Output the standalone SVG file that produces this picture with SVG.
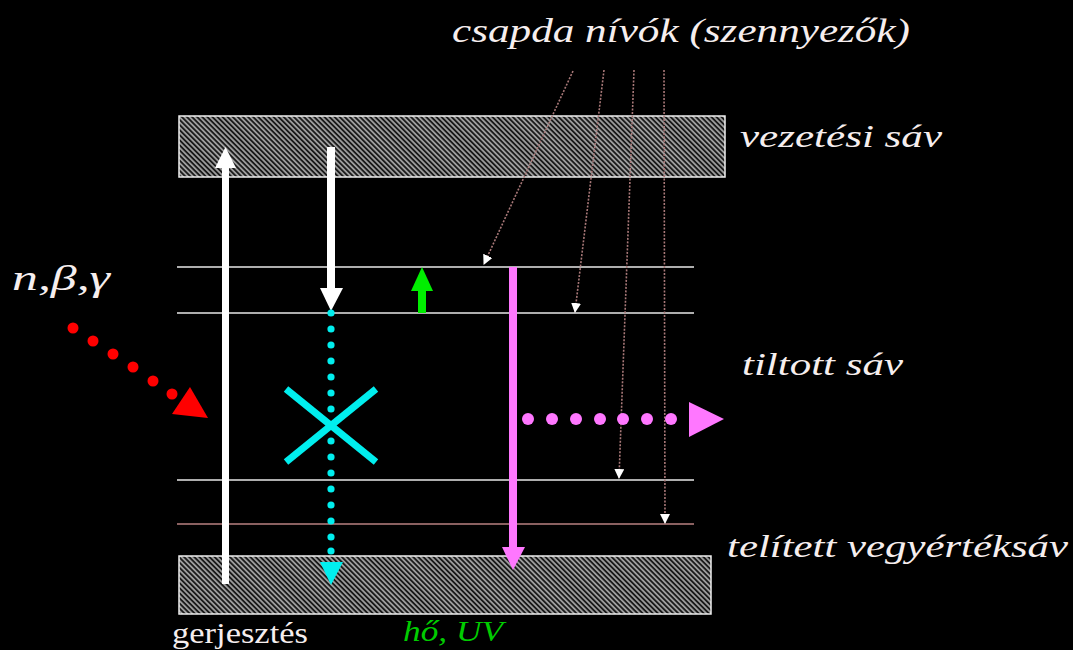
<svg xmlns="http://www.w3.org/2000/svg" width="1073" height="650" viewBox="0 0 1073 650">
<style>
.lbl{font-style:italic;fill:#f6eeee}
.band{fill:url(#hatch);stroke:#f0f0f0;stroke-width:1.5}
.lvl{stroke:#e8e8e8;stroke-width:1.5}
.trap{fill:none;stroke:#a87878;stroke-width:1.6;stroke-dasharray:2 1.5}
</style>
<defs>
<pattern id="hatch" patternUnits="userSpaceOnUse" width="3.6" height="3.6" patternTransform="rotate(-45)">
<rect width="3.6" height="3.6" fill="#1a1a1a"/>
<line x1="0.9" y1="0" x2="0.9" y2="3.6" stroke="#cfcfcf" stroke-width="1.3"/>
</pattern>
<marker id="wh" markerWidth="10" markerHeight="10" refX="9" refY="5" orient="auto" markerUnits="userSpaceOnUse">
<path d="M0,0 L10,5 L0,10 Z" fill="#ffffff"/>
</marker>
</defs>
<rect width="1073" height="650" fill="#000"/>

<g id="vezetesi-sav">
<rect class="band" x="179" y="116" width="546" height="61"/>
</g>
<g id="vegyerteksav">
<rect class="band" x="179" y="556" width="532" height="58"/>
</g>
<g id="levels">
<line class="lvl" x1="177" y1="267" x2="694" y2="267"/>
<line class="lvl" x1="177" y1="313" x2="694" y2="313"/>
<line class="lvl" x1="177" y1="480" x2="694" y2="480"/>
<line x1="177" y1="524" x2="694" y2="524" stroke="#8a6060" stroke-width="1.8"/>
</g>

<g id="labels" font-family="Liberation Serif, serif">
<text class="lbl" x="452" y="42" font-size="33" textLength="458" lengthAdjust="spacingAndGlyphs">csapda nívók (szennyezők)</text>
<text class="lbl" x="740" y="147" font-size="32" textLength="202" lengthAdjust="spacingAndGlyphs">vezetési sáv</text>
<text class="lbl" x="742" y="375" font-size="32" textLength="161" lengthAdjust="spacingAndGlyphs">tiltott sáv</text>
<text class="lbl" x="727" y="557" font-size="32" textLength="341" lengthAdjust="spacingAndGlyphs">telített vegyértéksáv</text>
<text class="lbl" x="12" y="290" font-size="36" textLength="98" lengthAdjust="spacingAndGlyphs">n,β,γ</text>
<text x="172" y="643" font-size="29" fill="#f6eeee" textLength="136" lengthAdjust="spacingAndGlyphs">gerjesztés</text>
<text x="403" y="641" font-style="italic" font-size="29" fill="#00cc00" textLength="100" lengthAdjust="spacingAndGlyphs">hő, UV</text>
</g>

<g id="connectors">
<line class="trap" x1="573" y1="71" x2="484" y2="264" marker-end="url(#wh)"/>
<line class="trap" x1="604" y1="70" x2="575" y2="312" marker-end="url(#wh)"/>
<line class="trap" x1="634" y1="70" x2="619" y2="478" marker-end="url(#wh)"/>
<line class="trap" x1="664" y1="70" x2="665" y2="523" marker-end="url(#wh)"/>

<rect x="222" y="166" width="7" height="418" fill="#fff"/>
<path d="M215,168 L225.5,147 L236,168 Z" fill="#fff"/>
<rect x="327" y="147" width="8" height="143" fill="#fff"/>
<path d="M320,288 L331,311 L343,288 Z" fill="#fff"/>
<rect x="418" y="289" width="8" height="24" fill="#00ee00"/>
<path d="M411,291 L422,267 L433,291 Z" fill="#00ee00"/>
<rect x="509" y="267" width="8" height="282" fill="#ff77ff"/>
<path d="M502,547 L513,570 L525,547 Z" fill="#ff77ff"/>
<g fill="#ff77ff">
<circle cx="528" cy="419" r="6"/><circle cx="552" cy="419" r="6"/><circle cx="576" cy="419" r="6"/><circle cx="600" cy="419" r="6"/><circle cx="623" cy="419" r="6"/><circle cx="647" cy="419" r="6"/><circle cx="671" cy="419" r="6"/>
<path d="M689,402 L724,419 L689,437 Z"/>
</g>
<g fill="#00eeee">
<circle cx="331" cy="313" r="3.6"/><circle cx="331" cy="329" r="3.6"/><circle cx="331" cy="345" r="3.6"/><circle cx="331" cy="361" r="3.6"/><circle cx="331" cy="377" r="3.6"/><circle cx="331" cy="393" r="3.6"/><circle cx="331" cy="409" r="3.6"/><circle cx="331" cy="425" r="3.6"/><circle cx="331" cy="441" r="3.6"/><circle cx="331" cy="457" r="3.6"/><circle cx="331" cy="473" r="3.6"/><circle cx="331" cy="489" r="3.6"/><circle cx="331" cy="505" r="3.6"/><circle cx="331" cy="521" r="3.6"/><circle cx="331" cy="537" r="3.6"/><circle cx="331" cy="551" r="3.6"/>
<path d="M320,562 L331,585 L343,562 Z"/>
</g>
<g stroke="#00eeee" stroke-width="7">
<line x1="286" y1="389" x2="376" y2="462"/>
<line x1="376" y1="389" x2="286" y2="462"/>
</g>
<g fill="#ff0000">
<circle cx="73" cy="328" r="5.5"/><circle cx="93" cy="341" r="5.5"/><circle cx="113" cy="354" r="5.5"/><circle cx="133" cy="367" r="5.5"/><circle cx="153" cy="381" r="5.5"/><circle cx="172" cy="394" r="5.5"/>
<path d="M190,387 L208,418 L172,414 Z"/>
</g>
</g>
</svg>
